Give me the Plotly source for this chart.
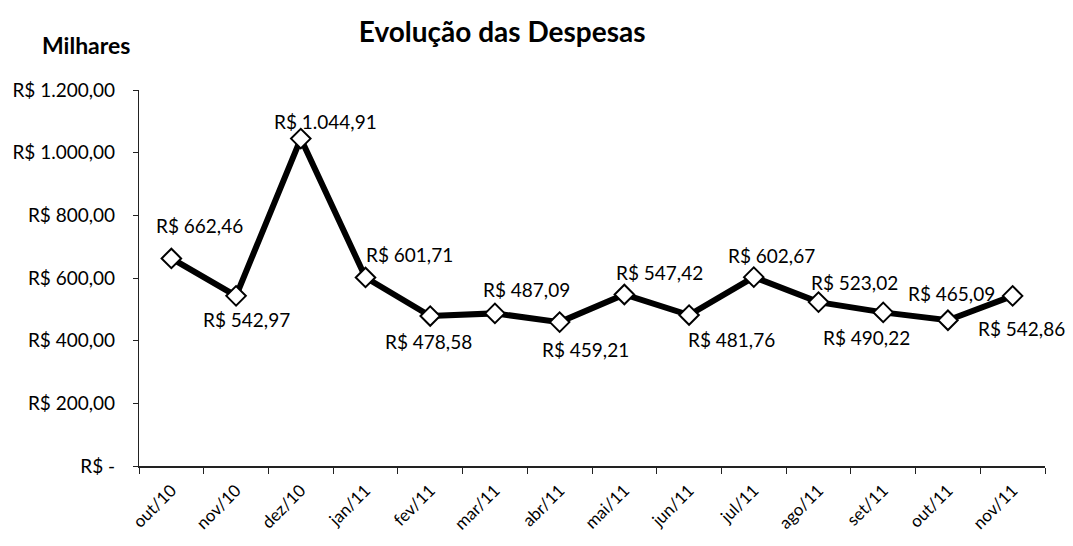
import plotly.graph_objects as go

# Monthly expenses (thousands of R$)
meses = ["out/10", "nov/10", "dez/10", "jan/11", "fev/11", "mar/11", "abr/11",
         "mai/11", "jun/11", "jul/11", "ago/11", "set/11", "out/11", "nov/11"]
despesas = [662.46, 542.97, 1044.91, 601.71, 478.58, 487.09, 459.21,
            547.42, 481.76, 602.67, 523.02, 490.22, 465.09, 542.86]

y_ticks = [0, 200, 400, 600, 800, 1000, 1200]


def brl(v):
    if v == 0:
        return "R$ -"
    s = f"{v:,.2f}"
    s = s.replace(",", "X").replace(".", ",").replace("X", ".")
    return "R$ " + s


# label offsets in pixels (dx, dy; dy positive = downward) relative to each marker
label_offsets = [(28, -33), (10, 24), (25, -17), (44, -23), (-2, 25), (32, -24),
                 (26, 27), (35, -22), (42, 24), (18, -22), (36, -20), (-17, 25),
                 (4, -27), (9, 33)]

FONT = "Lato"

fig = go.Figure()
fig.add_trace(go.Scatter(
    x=meses, y=despesas, mode="lines+markers",
    line=dict(color="black", width=6),
    marker=dict(symbol="diamond", size=15, color="white",
                line=dict(color="black", width=2)),
    hoverinfo="skip", showlegend=False,
))

for m, v, (dx, dy) in zip(meses, despesas, label_offsets):
    fig.add_annotation(x=m, y=v, text=brl(v), showarrow=False,
                       xshift=dx, yshift=-dy,
                       font=dict(family=FONT, size=19, color="black"))

fig.add_annotation(xref="paper", yref="paper", x=-0.109, y=1.12,
                   xanchor="left", yanchor="middle", text="<b>Milhares</b>",
                   showarrow=False, font=dict(family=FONT, size=23, color="black"))

fig.update_layout(
    width=1073, height=546,
    paper_bgcolor="white", plot_bgcolor="white",
    margin=dict(l=137, r=28, t=90, b=80),
    title=dict(text="<b>Evolução das Despesas</b>", x=0.468, xanchor="center",
               y=0.941, yanchor="middle",
               font=dict(family=FONT, size=28, color="black")),
    xaxis=dict(type="category", range=[-0.5, len(meses) - 0.5],
               showline=True, linecolor="#222", linewidth=1.5,
               ticks="outside", ticklen=6, tickcolor="#222", tickson="boundaries",
               tickangle=-45, showgrid=False, ticklabelstandoff=6,
               tickfont=dict(family=FONT, size=17, color="black")),
    yaxis=dict(range=[0, 1200], tickvals=y_ticks,
               ticktext=[brl(v) for v in y_ticks],
               showline=True, linecolor="#222", linewidth=1.2,
               ticks="outside", ticklen=5, tickcolor="#222",
               ticklabelstandoff=14, showgrid=False, zeroline=False,
               tickfont=dict(family=FONT, size=19, color="black")),
)

fig.write_html("out.html")
